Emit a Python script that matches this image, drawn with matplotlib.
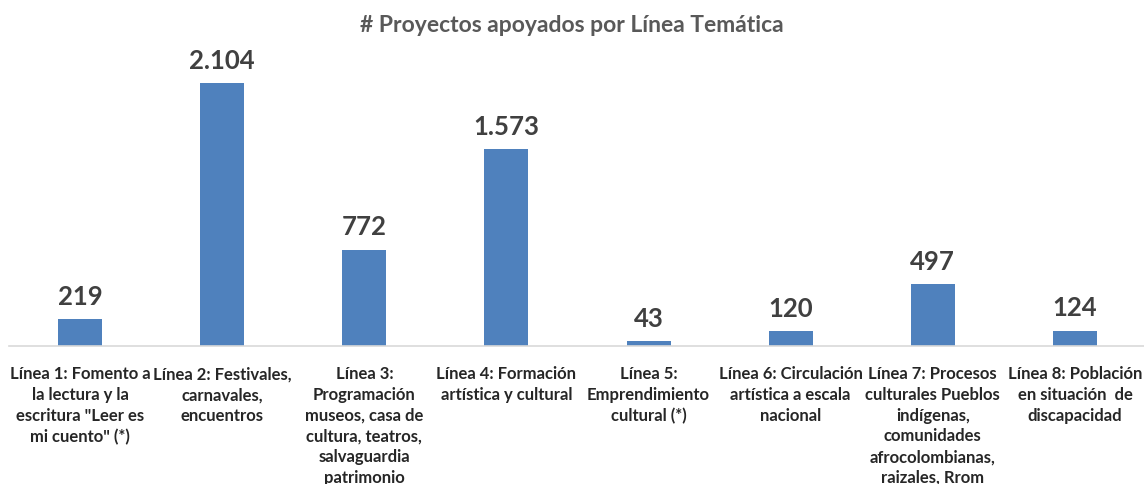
import matplotlib
matplotlib.use("Agg")
import matplotlib.pyplot as plt

categories = [
    'Línea 1: Fomento a\nla lectura y la\nescritura "Leer es\nmi cuento" (*)',
    'Línea 2: Festivales,\ncarnavales,\nencuentros',
    'Línea 3:\nProgramación\nmuseos, casa de\ncultura, teatros,\nsalvaguardia\npatrimonio',
    'Línea 4: Formación\nartística y cultural',
    'Línea 5:\nEmprendimiento\ncultural (*)',
    'Línea 6: Circulación\nartística a escala\nnacional',
    'Línea 7: Procesos\nculturales Pueblos\nindígenas,\ncomunidades\nafrocolombianas,\nraizales, Rrom',
    'Línea 8: Población\nen situación  de\ndiscapacidad',
]
values = [219, 2104, 772, 1573, 43, 120, 497, 124]
value_labels = ["219", "2.104", "772", "1.573", "43", "120", "497", "124"]
title = "# Proyectos apoyados por Línea Temática"

W, H = 1144, 485
fig = plt.figure(figsize=(W / 100, H / 100), dpi=100)
left_px, right_px, top_px, base_px = 9, 1146, 40, 347
ax = fig.add_axes([left_px / W, (H - base_px) / H, (right_px - left_px) / W, (base_px - top_px) / H])

x = list(range(len(values)))
bars = ax.bar(x, values, width=0.31, color="#4F81BD", zorder=2)
ax.set_xlim(-0.5, len(values) - 0.5)
ax.set_ylim(0, 2456)

for xi, v, lab in zip(x, values, value_labels):
    ax.annotate(lab, (xi, v), xytext=(0, 8), textcoords="offset points",
                ha="center", va="bottom", fontsize=18.5, fontweight="bold",
                color="#404040", family="Lato")

ax.set_xticks(x)
ax.set_xticklabels(categories, fontsize=12, fontweight="bold", color="#262626",
                   family="Lato", linespacing=1.36)
ax.tick_params(axis="x", length=0, pad=14)
ax.set_yticks([])
for s in ["left", "right", "top"]:
    ax.spines[s].set_visible(False)
ax.spines["bottom"].set_color("#D9D9D9")
ax.spines["bottom"].set_linewidth(1.2)
ax.patch.set_alpha(0)

fig.text(0.5, 1 - 25 / H, title, ha="center", va="center", fontsize=16.5,
         fontweight="bold", color="#595959", family="Lato")

fig.savefig("out.png", dpi=100, facecolor="white")
